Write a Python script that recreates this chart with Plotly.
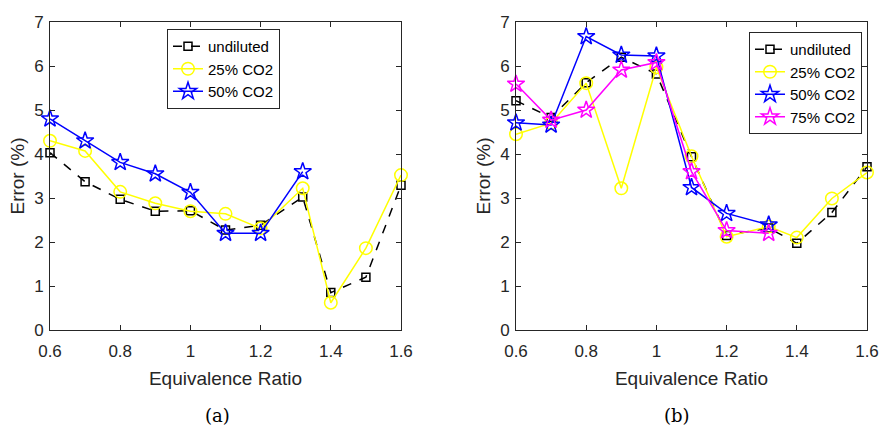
import plotly.graph_objects as go

# ---- data ----
phi_a = [0.6, 0.7, 0.8, 0.9, 1.0, 1.1, 1.2, 1.32, 1.4, 1.5, 1.6]
a_undiluted = [4.03, 3.37, 2.97, 2.70, 2.71, 2.27, 2.38, 3.02, 0.85, 1.20, 3.29]
a_co2_25 = [4.30, 4.07, 3.14, 2.88, 2.70, 2.64, 2.31, 3.22, 0.62, 1.86, 3.52]
phi_a50 = [0.6, 0.7, 0.8, 0.9, 1.0, 1.1, 1.2, 1.32]
a_co2_50 = [4.80, 4.30, 3.81, 3.55, 3.13, 2.20, 2.20, 3.60]

phi_b = [0.6, 0.7, 0.8, 0.9, 1.0, 1.1, 1.2, 1.32, 1.4, 1.5, 1.6]
b_undiluted = [5.21, 4.83, 5.62, 6.20, 5.82, 3.94, 2.15, 2.32, 1.97, 2.67, 3.71]
b_co2_25 = [4.45, 4.70, 5.61, 3.22, 5.97, 3.95, 2.12, 2.35, 2.10, 2.99, 3.58]
phi_b2 = [0.6, 0.7, 0.8, 0.9, 1.0, 1.1, 1.2, 1.32]
b_co2_50 = [4.71, 4.66, 6.67, 6.25, 6.23, 3.24, 2.65, 2.39]
b_co2_75 = [5.59, 4.77, 5.00, 5.91, 6.08, 3.60, 2.26, 2.20]

x_tickvals = [0.6, 0.8, 1.0, 1.2, 1.4, 1.6]
x_ticktext = ["0.6", "0.8", "1", "1.2", "1.4", "1.6"]
y_tickvals = [0, 1, 2, 3, 4, 5, 6, 7]
captions = ["(a)", "(b)"]

W, H = 880, 428
def px(x):
    return x / W
def py(y):
    return 1 - y / H

FONT = "Liberation Sans, Arial, sans-serif"
SERIF = "DejaVu Serif, Liberation Serif, serif"
AX = "#262626"

fig = go.Figure()

def add(x, y, name, color, dash, symbol, size, xa, ya, legend, width=1.5):
    fig.add_trace(go.Scatter(
        x=x, y=y, name=name, mode="lines+markers",
        line=dict(color=color, dash=dash, width=width),
        marker=dict(symbol=symbol, size=size, color=color,
                    line=dict(color=color, width=1.5)),
        xaxis=xa, yaxis=ya, legend=legend, cliponaxis=False))

add(phi_a, a_undiluted, "undiluted", "black", "dash", "square-open", 8, "x", "y", "legend")
add(phi_a, a_co2_25, "25% CO2", "#FFFF00", "solid", "circle-open", 12.5, "x", "y", "legend")
add(phi_a50, a_co2_50, "50% CO2", "#0000FF", "solid", "star-open", 13, "x", "y", "legend")

add(phi_b, b_undiluted, "undiluted", "black", "dash", "square-open", 8, "x2", "y2", "legend2")
add(phi_b, b_co2_25, "25% CO2", "#FFFF00", "solid", "circle-open", 12.5, "x2", "y2", "legend2")
add(phi_b2, b_co2_50, "50% CO2", "#0000FF", "solid", "star-open", 13, "x2", "y2", "legend2")
add(phi_b2, b_co2_75, "75% CO2", "#FF00FF", "solid", "star-open", 13, "x2", "y2", "legend2")

ydom = [py(330), py(22)]
axcommon = dict(showline=True, linecolor=AX, linewidth=1, mirror="ticks",
                ticks="inside", ticklen=5, tickcolor=AX, showgrid=False,
                zeroline=False, automargin=False,
                tickfont=dict(family=FONT, size=17, color=AX),
                title_font=dict(family=FONT, size=19, color=AX))

fig.update_layout(
    width=W, height=H, margin=dict(l=0, r=0, t=0, b=0),
    paper_bgcolor="white", plot_bgcolor="white",
    font=dict(family=FONT, color=AX),
    xaxis=dict(domain=[px(50), px(401)], range=[0.6, 1.6], tickvals=x_tickvals,
               ticktext=x_ticktext, anchor="y", ticklabelstandoff=6,
               title=dict(text="Equivalence Ratio", standoff=11), **axcommon),
    yaxis=dict(domain=ydom, range=[0, 7], tickvals=y_tickvals, anchor="x",
               ticklabelstandoff=2,
               title=dict(text="Error (%)", standoff=4), **axcommon),
    xaxis2=dict(domain=[px(516), px(867)], range=[0.6, 1.6], tickvals=x_tickvals,
                ticktext=x_ticktext, anchor="y2", ticklabelstandoff=6,
                title=dict(text="Equivalence Ratio", standoff=11), **axcommon),
    yaxis2=dict(domain=ydom, range=[0, 7], tickvals=y_tickvals, anchor="x2",
                ticklabelstandoff=2,
                title=dict(text="Error (%)", standoff=4), **axcommon),
    legend=dict(x=px(167), y=py(29), xanchor="left", yanchor="top",
                bgcolor="white", bordercolor=AX, borderwidth=1,
                font=dict(family=FONT, size=15, color="black"),
                itemwidth=30, tracegroupgap=0),
    legend2=dict(x=px(749), y=py(32), xanchor="left", yanchor="top",
                 bgcolor="white", bordercolor=AX, borderwidth=1,
                 font=dict(family=FONT, size=15, color="black"),
                 itemwidth=30, tracegroupgap=0),
    annotations=[
        dict(text=captions[0], x=px(217), y=py(415), xref="paper", yref="paper",
             xanchor="center", yanchor="middle",
             showarrow=False, font=dict(family=SERIF, size=18, color="black")),
        dict(text=captions[1], x=px(677), y=py(415), xref="paper", yref="paper",
             xanchor="center", yanchor="middle",
             showarrow=False, font=dict(family=SERIF, size=18, color="black")),
    ],
)

fig.write_html(
    "out.html",
    config={"displayModeBar": False},
    post_script="document.body.style.margin='0';document.body.style.overflow='hidden';",
)
